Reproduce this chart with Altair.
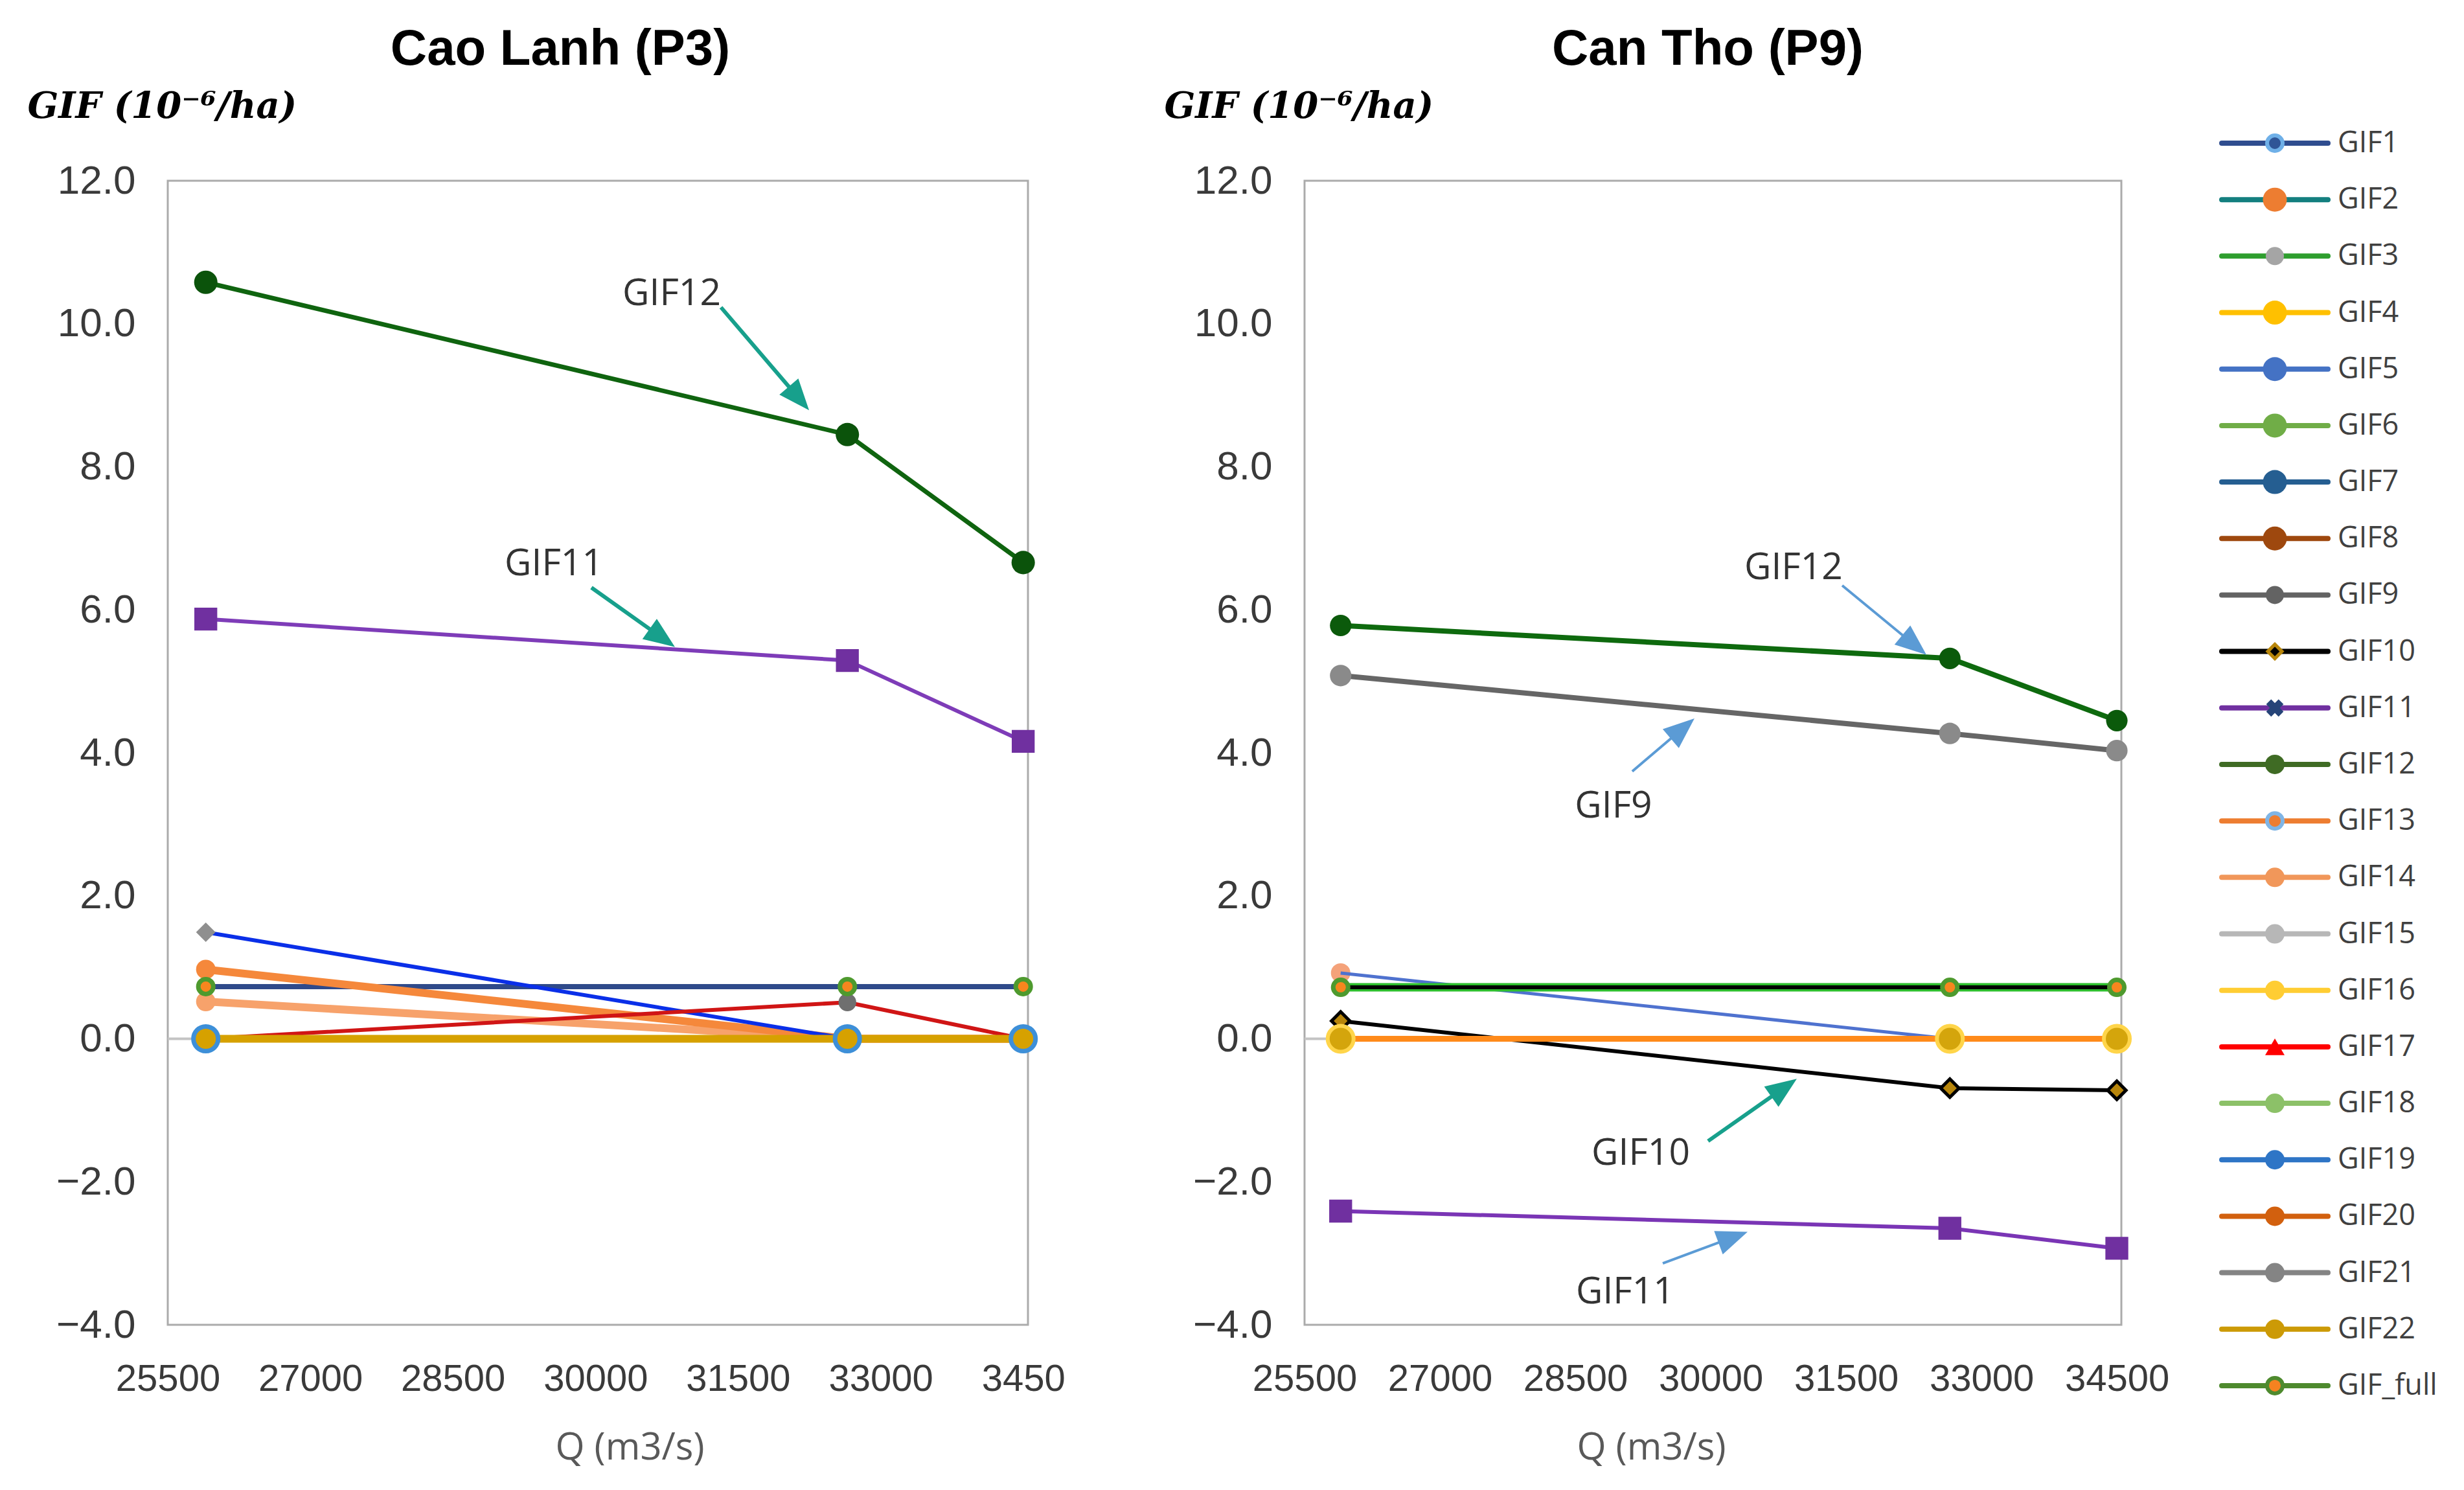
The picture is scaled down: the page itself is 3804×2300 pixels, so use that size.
import math
import altair as alt
import pandas as pd

# ---------------- data ----------------
Q = [25900, 32650, 34500]
X_TICKS = [25500, 27000, 28500, 30000, 31500, 33000, 34500]
Y_TICKS = [-4, -2, 0, 2, 4, 6, 8, 10, 12]
ZERO = [0.0]

# Cao Lanh (P3)
CL_GIF12 = [10.58, 8.45, 6.66]
CL_GIF11 = [5.87, 5.29, 4.16]
CL_GIF5 = [1.49, 0.0, 0.0]
CL_GIF13 = [0.97, 0.0, 0.0]
CL_GIF14 = [0.52, 0.0, 0.0]
CL_GIF1 = [0.73, 0.73, 0.73]
CL_GIF17 = [0.0, 0.51, 0.0]
CL_GIF21 = [0.0, 0.51, 0.0]
CL_GIF_FULL = [0.73, 0.73, 0.73]
CL_GIF22 = [0.0, 0.0, 0.0]
CL_GIF19 = [0.0, 0.0, 0.0]

# Can Tho (P9)
CT_GIF12 = [5.78, 5.32, 4.45]
CT_GIF9 = [5.08, 4.27, 4.03]
CT_GIF14 = [0.92, 0.0, 0.0]
CT_GIF5 = [0.92, 0.0, 0.0]
CT_GIF3 = [0.72, 0.72, 0.72]
CT_GIF7 = [0.72, 0.72, 0.72]
CT_GIF_FULL = [0.72, 0.72, 0.72]
CT_GIF10 = [0.25, -0.69, -0.72]
CT_GIF20 = [0.0, 0.0, 0.0]
CT_GIF16 = [0.0, 0.0, 0.0]
CT_GIF11 = [-2.41, -2.65, -2.93]

# annotations (data coordinates)
CL_ANN_TEXT = ["GIF12", "GIF11"]
CL_ANN_Q = [30802, 29562]
CL_ANN_V = [10.41, 6.64]
CL_ARR_Q0 = [31320, 29957]
CL_ARR_V0 = [10.23, 6.31]
CL_ARR_Q1 = [32247, 30836]
CL_ARR_V1 = [8.79, 5.48]

CT_ANN_TEXT = ["GIF12", "GIF9", "GIF10", "GIF11"]
CT_ANN_Q = [30918, 28923, 29225, 29052]
CT_ANN_V = [6.58, 3.25, -1.61, -3.55]
CT_ARR_Q0 = [31457, 29131, 29971, 29469]
CT_ARR_V0 = [6.34, 3.74, -1.43, -3.14]
CT_ARR_Q1 = [32390, 29820, 30954, 30409]
CT_ARR_V1 = [5.37, 4.48, -0.56, -2.70]

LEGEND_NAMES = ["GIF1", "GIF2", "GIF3", "GIF4", "GIF5", "GIF6", "GIF7", "GIF8",
                "GIF9", "GIF10", "GIF11", "GIF12", "GIF13", "GIF14", "GIF15",
                "GIF16", "GIF17", "GIF18", "GIF19", "GIF20", "GIF21", "GIF22",
                "GIF_full"]

# ---------------- styles ----------------
TEAL = "#17A08C"
LBLUE = "#5B9BD5"
CL_ARR_COLOR = [TEAL, TEAL]
CL_ARR_W = [6, 6]
CT_ARR_COLOR = [LBLUE, LBLUE, TEAL, LBLUE]
CT_ARR_W = [4, 4, 6, 4]

CL_LAYERS = [
    ("GIF12", CL_GIF12, dict(line="#0F640F", lw=7, shape="circle", fill="#0B530B", size=1300)),
    ("GIF11", CL_GIF11, dict(line="#7E3CB8", lw=6, shape="square", fill="#7030A0", size=1250)),
    ("GIF14", CL_GIF14, dict(line="#F7A26B", lw=12, shape="circle", fill="#F7A26B", size=900)),
    ("GIF1", CL_GIF1, dict(line="#2F4A8A", lw=8)),
    ("GIF13", CL_GIF13, dict(line="#F5883B", lw=12, shape="circle", fill="#F5883B", size=900)),
    ("GIF5", CL_GIF5, dict(line="#0A2FE8", lw=6, shape="diamond", fill="#8F8F8F", size=900)),
    ("GIF17", CL_GIF17, dict(line="#D01515", lw=6)),
    ("GIF21", CL_GIF21, dict(shape="circle", fill="#6F6F6F", size=750)),
    ("GIF_full", CL_GIF_FULL, dict(shape="circle", fill="#F7861E", stroke="#4E9A2E", sw=7, size=530)),
    ("GIF22", CL_GIF22, dict(line="#D6A100", lw=12)),
    ("GIF19", CL_GIF19, dict(shape="circle", fill="#D6A100", stroke="#3D8FD8", sw=7, size=1450)),
]

CT_LAYERS = [
    ("GIF12", CT_GIF12, dict(line="#0E6A0E", lw=8, shape="circle", fill="#0B5A0B", size=1100)),
    ("GIF9", CT_GIF9, dict(line="#666666", lw=8, shape="circle", fill="#8A8A8A", size=1100)),
    ("GIF14", CT_GIF14, dict(shape="circle", fill="#F4A27A", size=900)),
    ("GIF5", CT_GIF5, dict(line="#4F72CF", lw=5)),
    ("GIF3", CT_GIF3, dict(line="#2DBE2D", lw=13)),
    ("GIF7", CT_GIF7, dict(line="#000000", lw=6)),
    ("GIF_full", CT_GIF_FULL, dict(shape="circle", fill="#F7861E", stroke="#4E9A2E", sw=7, size=530)),
    ("GIF10", CT_GIF10, dict(line="#000000", lw=6, shape="diamond", fill="#B8860B", stroke="#000000", sw=5, size=800)),
    ("GIF20", CT_GIF20, dict(line="#FF8A1A", lw=9)),
    ("GIF16", CT_GIF16, dict(shape="circle", fill="#D4A50C", stroke="#FFD54A", sw=6, size=1600)),
    ("GIF11", CT_GIF11, dict(line="#7A35B5", lw=6, shape="square", fill="#7030A0", size=1250)),
]

LEG_LINE = ["#2F4D8F", "#137F7F", "#2E9E2E", "#FFC000", "#4472C4", "#70AD47", "#255E91",
            "#9E480E", "#636363", "#000000", "#7030A0", "#3F6B24", "#ED7D31", "#F1975A",
            "#B7B7B7", "#FFCD33", "#FF0000", "#8CC168", "#2E75C6", "#D2600E", "#848484",
            "#CC9A06", "#4E8A2E"]
LEG_FILL = ["#2F5597", "#ED7D31", "#A5A5A5", "#FFC000", "#4472C4", "#70AD47", "#255E91",
            "#9E480E", "#636363", "#000000", "#264478", "#3F6B24", "#ED7D31", "#F1975A",
            "#B7B7B7", "#FFCD33", "#FF0000", "#8CC168", "#2E75C6", "#D2600E", "#848484",
            "#CC9A06", "#F58220"]
LEG_STROKE = ["#6FB0E8", "#ED7D31", "#A5A5A5", "#FFC000", "#4472C4", "#70AD47", "#255E91",
              "#9E480E", "#636363", "#B8860B", "#264478", "#3F6B24", "#7FB5E6", "#F1975A",
              "#B7B7B7", "#FFCD33", "#FF0000", "#8CC168", "#2E75C6", "#D2600E", "#848484",
              "#CC9A06", "#4E8A2E"]
LEG_SW = [6, 0, 0, 0, 0, 0, 0, 0, 0, 5, 0, 0, 6, 0, 0, 0, 0, 0, 0, 0, 0, 0, 6]
LEG_SHAPE = ["circle"] * 23
LEG_SHAPE[9] = "diamond"
LEG_SHAPE[10] = "cross"
LEG_SHAPE[16] = "triangle-up"
LEG_ANGLE = [0] * 23
LEG_ANGLE[10] = 45
LEG_SIZE = [576, 1369, 784, 1369, 1369, 1369, 1369, 1369, 784, 484, 729, 900, 576, 900,
            900, 900, 900, 900, 900, 900, 900, 900, 576]

# ---------------- layout ----------------
H = 1766
W_L = 1328
W_R = 1261
X_DOMAIN = [25500, 34550]
Y_DOMAIN = [-4, 12]
PYU = H / (Y_DOMAIN[1] - Y_DOMAIN[0])
HEAD_PATH = "M0,0L-0.8,2L0.8,2Z"

LABEL_FONT = "Liberation Sans"
TEXT_FONT = "Open Sans"


def panel(title, title_dx, layers, ann, width, xtitle_x, label_expr=None):
    pxu = width / (X_DOMAIN[1] - X_DOMAIN[0])
    xs = alt.Scale(domain=X_DOMAIN, nice=False, zero=False)
    ys = alt.Scale(domain=Y_DOMAIN, nice=False, zero=False)
    xkw = dict(values=X_TICKS, format="d", title="Q (m3/s)", grid=False, ticks=False,
               domain=False, labelFlush=False, labelOverlap=False, labelPadding=55,
               labelFont=LABEL_FONT, labelFontSize=58, labelColor="#3A3A3A",
               titleFont=TEXT_FONT, titleFontSize=58, titleFontWeight="normal",
               titleColor="#595959", titleX=xtitle_x, titleY=190, titleAlign="center",
               titleBaseline="middle")
    if label_expr:
        xkw["labelExpr"] = label_expr
    xaxis = alt.Axis(**xkw)
    yaxis = alt.Axis(values=Y_TICKS, format=".1f", title="GIF (10⁻⁶/ha)", grid=False,
                     ticks=False, domain=False, labelPadding=50, labelFont=LABEL_FONT,
                     labelFontSize=62, labelColor="#3A3A3A", labelOverlap=False,
                     labelFlush=False, titleAngle=0, titleAlign="left",
                     titleBaseline="middle", titleX=-217, titleY=-115,
                     titleFont="DejaVu Serif", titleFontStyle="italic",
                     titleFontWeight="bold", titleFontSize=56, titleColor="black")

    def X(f="Q"):
        return alt.X(f"{f}:Q", scale=xs, axis=xaxis)

    def Y(f="v"):
        return alt.Y(f"{f}:Q", scale=ys, axis=yaxis)

    out = []
    zero_df = pd.DataFrame({"v": ZERO})
    out.append(alt.Chart(zero_df).mark_rule(color="#C4C4C4", strokeWidth=4).encode(y=Y()))

    for name, vals, st in layers:
        df = pd.DataFrame({"Q": Q, "v": vals, "series": name})
        if "line" in st:
            out.append(alt.Chart(df).mark_line(color=st["line"], strokeWidth=st["lw"],
                                               strokeJoin="round").encode(x=X(), y=Y()))
        if "shape" in st:
            kw = dict(shape=st["shape"], filled=True, fill=st["fill"], size=st["size"], opacity=1)
            if "stroke" in st:
                kw.update(stroke=st["stroke"], strokeWidth=st["sw"])
            else:
                kw.update(strokeWidth=0)
            out.append(alt.Chart(df).mark_point(**kw).encode(x=X(), y=Y()))

    text, tq, tv, q0, v0, q1, v1, cols, ws = ann
    rows_r, rows_h = [], []
    for i in range(len(text)):
        dx = (q1[i] - q0[i]) * pxu
        dy = -(v1[i] - v0[i]) * PYU
        L = math.hypot(dx, dy)
        ux, uy = dx / L, dy / L
        ang = math.degrees(math.atan2(dx, -dy)) % 360
        back = 30.0
        rows_r.append(dict(Q=q0[i], v=v0[i], Q2=q1[i] - back * ux / pxu,
                           v2=v1[i] + back * uy / PYU, c=cols[i], w=ws[i]))
        rows_h.append(dict(Q=q1[i], v=v1[i], a=ang, c=cols[i]))
    rdf = pd.DataFrame(rows_r)
    hdf = pd.DataFrame(rows_h)
    tdf = pd.DataFrame({"Q": tq, "v": tv, "label": text})
    out.append(alt.Chart(rdf).mark_rule().encode(
        x=X(), y=Y(), x2="Q2:Q", y2="v2:Q",
        color=alt.Color("c:N", scale=None),
        strokeWidth=alt.StrokeWidth("w:Q", scale=None)))
    out.append(alt.Chart(hdf).mark_point(shape=HEAD_PATH, filled=True, size=2304, opacity=1).encode(
        x=X(), y=Y(), angle=alt.Angle("a:Q", scale=None),
        color=alt.Color("c:N", scale=None)))
    out.append(alt.Chart(tdf).mark_text(font=TEXT_FONT, fontSize=57, color="#333333",
                                        align="center", baseline="middle").encode(
        x=X(), y=Y(), text="label:N"))

    return alt.layer(*out).properties(
        width=width, height=H,
        title=alt.TitleParams(text=title, font=LABEL_FONT, fontSize=78, fontWeight="bold",
                              color="black", anchor="middle", frame="group", dx=title_dx,
                              offset=20))


left = panel("Cao Lanh (P3)", -58, CL_LAYERS,
             (CL_ANN_TEXT, CL_ANN_Q, CL_ANN_V, CL_ARR_Q0, CL_ARR_V0, CL_ARR_Q1, CL_ARR_V1,
              CL_ARR_COLOR, CL_ARR_W),
             W_L, 713, "datum.value == 34500 ? '3450' : datum.label")
right = panel("Can Tho (P9)", -8, CT_LAYERS,
              (CT_ANN_TEXT, CT_ANN_Q, CT_ANN_V, CT_ARR_Q0, CT_ARR_V0, CT_ARR_Q1, CT_ARR_V1,
               CT_ARR_COLOR, CT_ARR_W),
              W_R, 535)

# ---------------- legend ----------------
leg = pd.DataFrame({
    "idx": list(range(len(LEGEND_NAMES))),
    "name": LEGEND_NAMES,
    "line": LEG_LINE,
    "mfill": LEG_FILL,
    "mstroke": LEG_STROKE,
    "msw": LEG_SW,
    "mshape": LEG_SHAPE,
    "mangle": LEG_ANGLE,
    "msize": LEG_SIZE,
})
row_px = 87.18
d0 = 58 / row_px
d1 = d0 + H / row_px
ly = alt.Y("idx:Q", scale=alt.Scale(domain=[d0, d1], reverse=True, nice=False, zero=False),
           axis=None)
leg_rule = alt.Chart(leg).mark_rule(strokeWidth=8, strokeCap="round").encode(
    x=alt.value(-272), x2=alt.value(-108), y=ly,
    color=alt.Color("line:N", scale=None))
leg_pt = alt.Chart(leg).mark_point(filled=True, opacity=1).encode(
    x=alt.value(-190), y=ly,
    fill=alt.Fill("mfill:N", scale=None),
    stroke=alt.Stroke("mstroke:N", scale=None),
    strokeWidth=alt.StrokeWidth("msw:Q", scale=None),
    shape=alt.Shape("mshape:N", scale=None),
    angle=alt.Angle("mangle:Q", scale=None),
    size=alt.Size("msize:Q", scale=None))
leg_txt = alt.Chart(leg).mark_text(align="left", baseline="middle", font=TEXT_FONT,
                                   fontSize=45, color="#404040").encode(
    x=alt.value(-93), y=ly, text="name:N")
legend = alt.layer(leg_rule, leg_pt, leg_txt).properties(
    width=1, height=H, view=alt.ViewBackground(stroke="transparent"))

chart = alt.hconcat(left, right, legend, spacing=427, bounds="flush").properties(
    padding={"left": 32, "top": 28, "right": 5, "bottom": 5},
    background="white",
).configure_view(stroke="#ABABAB", strokeWidth=3)

chart.save("out.html", embed_options={"renderer": "svg", "actions": False})
